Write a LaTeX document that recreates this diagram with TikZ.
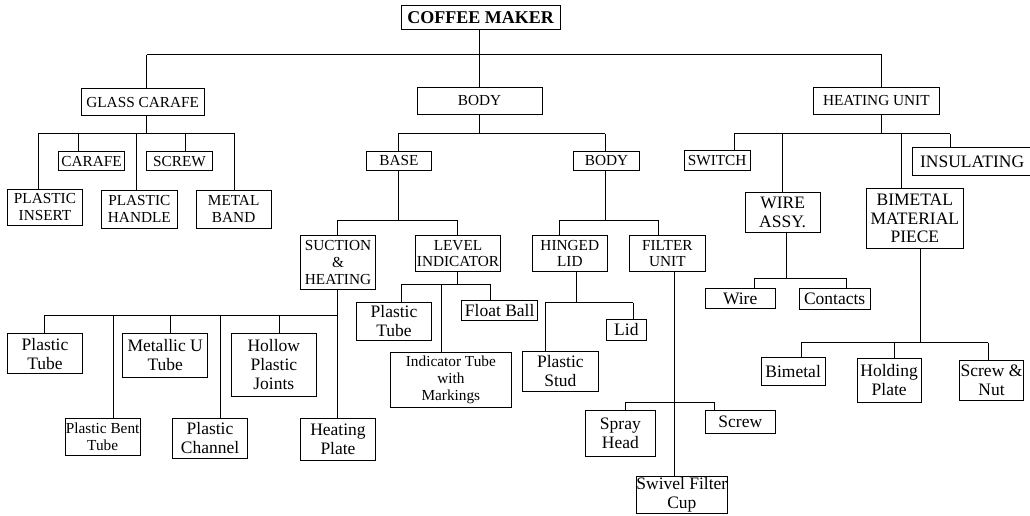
\documentclass[tikz,border=0pt]{standalone}
\usepackage{fontspec}
\setmainfont{Liberation Serif}
\newcommand\fcap{\fontsize{15.3}{16.8}\selectfont}
\newcommand\fcapbig{\fontsize{17.5}{18.8}\selectfont}
\newcommand\flow{\fontsize{17.5}{19}\selectfont}
\newcommand\fsmall{\fontsize{15.3}{17.3}\selectfont}
\newcommand\ftitle{\fontsize{18}{20}\selectfont\bfseries}
\newcommand\mybox[7]{\node[#6, minimum width={#4-#2}, minimum height={#5-#3}] (#1) at ({(#2+#4)/2},{(#3+#5)/2}) {#7};}
\newcommand\drop[2]{\draw (#1) -- (#2.north -| #1);}
\begin{document}
\begin{tikzpicture}[x=1pt,y=-1pt,
  line width=1pt,
  box/.style={draw, line width=1pt, inner sep=0pt, align=center, font=\fcap},
  bigbox/.style={box, font=\fcapbig},
  lowbox/.style={box, font=\flow},
  smallbox/.style={box, font=\fsmall},
  titlebox/.style={box, font=\ftitle}]
\useasboundingbox (0,0) rectangle (1030,516);
\clip (0,0) rectangle (1030,516);

% level 0 and 1
\mybox{cm}{401}{5.7}{560}{29.7}{titlebox}{COFFEE MAKER}
\mybox{gc}{81}{88.7}{204.3}{116}{box}{GLASS CARAFE}
\mybox{body}{417}{87.3}{542}{114.3}{box}{BODY}
\mybox{hu}{813.7}{87.3}{939}{114.3}{box}{HEATING UNIT}

% glass carafe children
\mybox{carafe}{58.7}{151.7}{124.3}{170.7}{box}{CARAFE}
\mybox{screwa}{146.7}{151.7}{212.3}{170.7}{box}{SCREW}
\mybox{pins}{7.3}{189.3}{82.7}{225.3}{box}{PLASTIC\\INSERT}
\mybox{phan}{101.7}{190}{177}{228.3}{box}{PLASTIC\\HANDLE}
\mybox{mband}{196}{190}{271.3}{228.3}{box}{METAL\\BAND}

% body children
\mybox{base}{366}{151}{431.7}{170.7}{box}{BASE}
\mybox{bodyb}{573.7}{151}{639.3}{170.7}{box}{BODY}
\mybox{suct}{300.3}{235.7}{375.7}{289.3}{box}{SUCTION\\\&\\HEATING}
\mybox{level}{415.3}{235.7}{500.7}{271.3}{box}{LEVEL\\INDICATOR}
\mybox{hinged}{532.3}{235.7}{607.3}{271.3}{box}{HINGED\\LID}
\mybox{filter}{629.7}{235.7}{705}{271.3}{box}{FILTER\\UNIT}

% suction children
\mybox{ptubea}{7.3}{333.7}{82.7}{373.7}{lowbox}{Plastic\\Tube}
\mybox{pbent}{65}{418.3}{140.3}{455.3}{smallbox}{Plastic Bent\\Tube}
\mybox{mutube}{122.7}{333.7}{207.7}{377}{lowbox}{Metallic U\\Tube}
\mybox{pchan}{172.3}{418.3}{247.7}{458.7}{lowbox}{Plastic\\Channel}
\mybox{hollow}{231.7}{333.7}{316}{396}{lowbox}{Hollow\\Plastic\\Joints}
\mybox{hplate}{300.3}{418.3}{375.7}{460.3}{lowbox}{Heating\\Plate}

% level indicator children
\mybox{ptubeb}{356.3}{302.7}{431.7}{340}{lowbox}{Plastic\\Tube}
\mybox{float}{461.7}{300.7}{537.7}{320.7}{lowbox}{Float Ball}
\mybox{indtube}{390}{352.7}{511.7}{407}{smallbox}{Indicator Tube\\with\\Markings}

% hinged lid children
\mybox{pstud}{522.7}{351}{598}{391.7}{lowbox}{Plastic\\Stud}
\mybox{lid}{606.7}{319}{646}{340}{lowbox}{Lid}

% filter unit children
\mybox{spray}{585}{410.3}{655.7}{456.7}{lowbox}{Spray\\Head}
\mybox{screwb}{705}{410.3}{775.7}{433}{lowbox}{Screw}
\mybox{swivel}{636}{476}{727.7}{513.3}{lowbox}{Swivel Filter\\Cup}

% heating unit children
\mybox{switch}{684}{150.7}{750.3}{170.7}{box}{SWITCH}
\mybox{wire}{745}{192.7}{820.3}{232.7}{bigbox}{WIRE\\ASSY.}
\mybox{bim}{866.7}{188.3}{963}{248.7}{bigbox}{BIMETAL\\MATERIAL\\PIECE}
\mybox{insul}{912.3}{147.7}{1032}{175.7}{bigbox}{INSULATING}
\mybox{wireb}{705}{288.7}{775.3}{308.3}{lowbox}{Wire}
\mybox{contacts}{799.3}{288.7}{870}{309.7}{lowbox}{Contacts}
\mybox{bimetal}{761}{357.3}{825.3}{385}{lowbox}{Bimetal}
\mybox{holding}{857}{358.7}{921.3}{402.3}{lowbox}{Holding\\Plate}
\mybox{snut}{959.3}{360.3}{1023.7}{400.7}{lowbox}{Screw \&\\Nut}

% top level bus
\coordinate (t1) at (146.7,55);
\coordinate (t2) at (479.3,55);
\coordinate (t3) at (881.7,55);
\draw (t1) -- (t3);
\draw (gc.north -| t1) -- (t1);
\draw (hu.north -| t3) -- (t3);
\draw (cm.south -| t2) -- (body.north -| t2);

% glass carafe bus
\coordinate (g0) at (146.7,134);
\coordinate (g1) at (38.3,134);
\coordinate (g2) at (78.3,134);
\coordinate (g3) at (136.7,134);
\coordinate (g4) at (185,134);
\coordinate (g5) at (234.7,134);
\draw (g1) -- (g5);
\draw (gc.south -| g0) -- (g0);
\drop{g1}{pins}
\drop{g2}{carafe}
\drop{g3}{phan}
\drop{g4}{screwa}
\drop{g5}{mband}

% body bus
\coordinate (b0) at (479.3,134);
\coordinate (b1) at (398,134);
\coordinate (b2) at (605,134);
\draw (b1) -- (b2);
\draw (body.south -| b0) -- (b0);
\drop{b1}{base}
\drop{b2}{bodyb}

% base bus
\coordinate (a0) at (398,220);
\coordinate (a1) at (337.3,220);
\coordinate (a2) at (457,220);
\draw (a1) -- (a2);
\draw (base.south -| a0) -- (a0);
\drop{a1}{suct}
\drop{a2}{level}

% body (second) bus
\coordinate (c0) at (605,220);
\coordinate (c1) at (559.3,220);
\coordinate (c2) at (658.7,220);
\draw (c1) -- (c2);
\draw (bodyb.south -| c0) -- (c0);
\drop{c1}{hinged}
\drop{c2}{filter}

% suction bus
\coordinate (s1) at (44,315.7);
\coordinate (s2) at (113.3,315.7);
\coordinate (s3) at (170.7,315.7);
\coordinate (s4) at (220,315.7);
\coordinate (s5) at (279.3,315.7);
\coordinate (s6) at (337.3,315.7);
\draw (s1) -- (s6);
\draw (suct.south -| s6) -- (hplate.north -| s6);
\drop{s1}{ptubea}
\drop{s2}{pbent}
\drop{s3}{mutube}
\drop{s4}{pchan}
\drop{s5}{hollow}

% level indicator bus
\coordinate (l0) at (457,284.3);
\coordinate (l1) at (401.7,284.3);
\coordinate (l2) at (441.3,284.3);
\coordinate (l3) at (490,284.3);
\draw (l1) -- (l3);
\draw (level.south -| l0) -- (l0);
\drop{l1}{ptubeb}
\drop{l2}{indtube}
\drop{l3}{float}

% hinged lid bus
\coordinate (h0) at (576.7,302.7);
\coordinate (h1) at (545,302.7);
\coordinate (h2) at (633.3,302.7);
\draw (h1) -- (h2);
\draw (hinged.south -| h0) -- (h0);
\drop{h1}{pstud}
\drop{h2}{lid}

% filter unit bus
\coordinate (f0) at (674.3,402.3);
\coordinate (f1) at (625.7,402.3);
\coordinate (f2) at (714.3,402.3);
\draw (f1) -- (f2);
\draw (filter.south -| f0) -- (swivel.north -| f0);
\drop{f1}{spray}
\drop{f2}{screwb}

% heating unit bus
\coordinate (u0) at (881.7,134);
\coordinate (u1) at (734,134);
\coordinate (u2) at (782,134);
\coordinate (u3) at (901.7,134);
\coordinate (u4) at (950,134);
\draw (u1) -- (u4);
\draw (hu.south -| u0) -- (u0);
\drop{u1}{switch}
\drop{u2}{wire}
\drop{u3}{bim}
\drop{u4}{insul}

% wire assy bus
\coordinate (w0) at (786.7,278.3);
\coordinate (w1) at (754.7,278.3);
\coordinate (w2) at (846,278.3);
\draw (w1) -- (w2);
\draw (wire.south -| w0) -- (w0);
\drop{w1}{wireb}
\drop{w2}{contacts}

% bimetal bus
\coordinate (m0) at (920.7,342.7);
\coordinate (m1) at (801,342.7);
\coordinate (m2) at (894,342.7);
\coordinate (m3) at (988.3,342.7);
\draw (m1) -- (m3);
\draw (bim.south -| m0) -- (m0);
\drop{m1}{bimetal}
\drop{m2}{holding}
\drop{m3}{snut}
\end{tikzpicture}
\end{document}
